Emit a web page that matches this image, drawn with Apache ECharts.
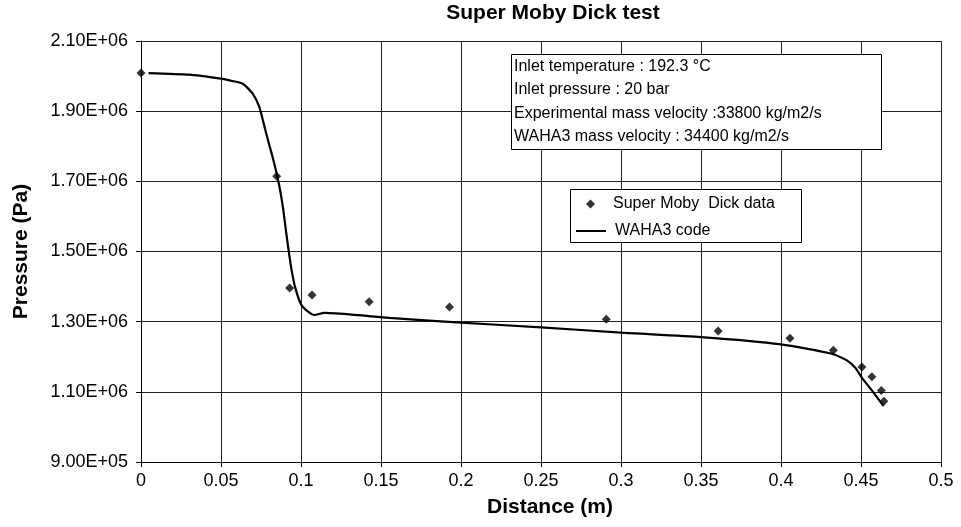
<!DOCTYPE html>
<html>
<head>
<meta charset="utf-8">
<script src="https://cdn.jsdelivr.net/npm/echarts@6/dist/echarts.min.js"></script>
<style>
html, body { margin: 0; padding: 0; background: #fff; }
#chart { width: 961px; height: 527px; }
</style>
</head>
<body>
<div id="chart"></div>
<script>
// measured points (Super Moby Dick data)
const dataDist = [0, 0.0848, 0.0929, 0.1069, 0.1426, 0.1928, 0.2908, 0.3607, 0.4056, 0.4327, 0.4506, 0.4568, 0.4627, 0.4643];
const dataPress = [2.0086e6, 1.7144e6, 1.396e6, 1.3763e6, 1.357e6, 1.342e6, 1.3069e6, 1.2734e6, 1.2526e6, 1.2183e6, 1.1706e6, 1.1429e6, 1.104e6, 1.0734e6];

// WAHA3 code curve
const codeDist = [0.0047, 0.03, 0.05, 0.0552, 0.0636, 0.0698, 0.074, 0.0765, 0.0795, 0.0823, 0.0852, 0.0873, 0.089, 0.0906, 0.0923, 0.0942, 0.0964, 0.1, 0.104, 0.1083, 0.1145, 0.155, 0.2, 0.25, 0.3, 0.35, 0.4, 0.4318, 0.4412, 0.4464, 0.4506, 0.4568, 0.4641];
const codePress = [2.0086e6, 2.004e6, 1.9926e6, 1.9877e6, 1.9783e6, 1.9497e6, 1.9114e6, 1.868e6, 1.815e6, 1.7686e6, 1.714e6, 1.666e6, 1.6163e6, 1.5591e6, 1.502e6, 1.4449e6, 1.3971e6, 1.3497e6, 1.33e6, 1.319e6, 1.325e6, 1.311e6, 1.297e6, 1.284e6, 1.2686e6, 1.256e6, 1.2354e6, 1.2086e6, 1.1897e6, 1.1686e6, 1.14e6, 1.104e6, 1.059e6];

const infoLines = [
    'Inlet temperature : 192.3 °C',
    'Inlet pressure : 20 bar',
    'Experimental mass velocity :33800 kg/m2/s',
    'WAHA3 mass velocity : 34400 kg/m2/s'
];

const font = 'Liberation Sans, Arial, sans-serif';

function sci(v) {
    let e = Math.floor(Math.log10(v) + 1e-9);
    let m = v / Math.pow(10, e);
    return m.toFixed(2) + 'E+' + String(e).padStart(2, '0');
}

let chart = echarts.init(document.getElementById('chart'));
chart.setOption({
    animation: false,
    backgroundColor: '#fff',
    title: {
        text: 'Super Moby Dick test',
        left: 553,
        top: 3,
        padding: 0,
        textAlign: 'center',
        textStyle: { fontFamily: font, fontSize: 21, fontWeight: 'bold', color: '#000' }
    },
    grid: { left: 141, top: 41, width: 800, height: 421 },
    xAxis: {
        type: 'value',
        min: 0, max: 0.5, interval: 0.05,
        name: 'Distance (m)',
        nameLocation: 'middle',
        nameGap: 35,
        nameTextStyle: { fontFamily: font, fontSize: 21, fontWeight: 'bold', color: '#000', padding: [0, 0, 0, 18] },
        axisLine: { lineStyle: { color: '#000', width: 1 } },
        axisTick: { show: true, length: 5, lineStyle: { color: '#000' } },
        axisLabel: {
            fontFamily: font, fontSize: 18, color: '#000', margin: 10,
            formatter: v => String(+v.toFixed(2))
        },
        splitLine: { show: true, lineStyle: { color: '#222', width: 1 } }
    },
    yAxis: {
        type: 'value',
        min: 900000, max: 2100000, interval: 200000,
        name: 'Pressure (Pa)',
        nameLocation: 'middle',
        nameGap: 109,
        nameTextStyle: { fontFamily: font, fontSize: 21, fontWeight: 'bold', color: '#000' },
        axisLine: { show: true, lineStyle: { color: '#000', width: 1 } },
        axisTick: { show: true, length: 5, lineStyle: { color: '#000' } },
        axisLabel: { fontFamily: font, fontSize: 18, color: '#000', margin: 13, formatter: sci },
        splitLine: { show: true, lineStyle: { color: '#222', width: 1 } }
    },
    legend: [
        {
            left: 586,
            top: 196,
            padding: 0,
            itemWidth: 9,
            itemHeight: 9,
            textStyle: { fontFamily: font, fontSize: 16, color: '#000', padding: [0, 0, 0, 13] },
            data: [{ name: 'Super Moby  Dick data', icon: 'diamond' }]
        },
        {
            left: 576,
            top: 223,
            padding: 0,
            itemWidth: 30,
            itemHeight: 2,
            textStyle: { fontFamily: font, fontSize: 16, color: '#000', padding: [0, 0, 0, 4] },
            data: [{ name: 'WAHA3 code', icon: 'rect' }]
        }
    ],
    graphic: [
        {
            type: 'rect', z: 3,
            shape: { x: 511.5, y: 54.5, width: 370, height: 95 },
            style: { fill: '#fff', stroke: '#000', lineWidth: 1 }
        },
        {
            type: 'text', z: 4,
            x: 514, y: 55,
            style: {
                text: infoLines.join('\n'),
                font: '16px ' + font,
                fill: '#000',
                lineHeight: 23.3
            }
        },
        {
            type: 'rect', z: 3,
            shape: { x: 570.5, y: 189.5, width: 231, height: 53 },
            style: { fill: '#fff', stroke: '#000', lineWidth: 1 }
        }
    ],
    series: [
        {
            name: 'WAHA3 code',
            type: 'line',
            data: codeDist.map((d, i) => [d, codePress[i]]),
            smooth: 0.2,
            symbol: 'none',
            lineStyle: { color: '#000', width: 2.2 },
            itemStyle: { color: '#000' },
            z: 2
        },
        {
            name: 'Super Moby  Dick data',
            type: 'scatter',
            data: dataDist.map((d, i) => [d, dataPress[i]]),
            symbol: 'diamond',
            symbolSize: 9,
            itemStyle: { color: '#000' },
            z: 3
        }
    ]
});
</script>
</body>
</html>
